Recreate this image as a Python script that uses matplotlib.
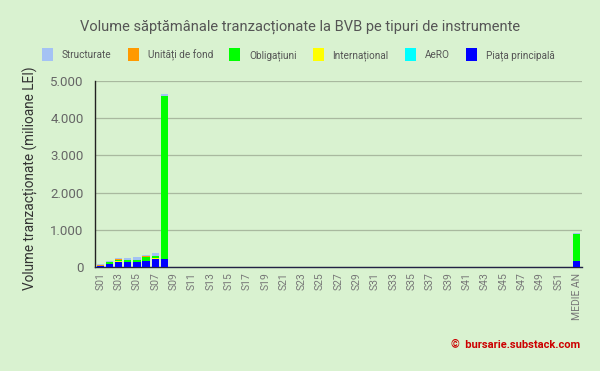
import matplotlib
matplotlib.use("Agg")
import matplotlib.pyplot as plt
import numpy as np

plt.rcParams['font.family'] = ['Roboto', 'DejaVu Sans']

weeks = [f"S{i:02d}" for i in range(1, 53)] + ["MEDIE AN"]
n = len(weeks)

# values (milioane LEI), bottom-up stacking
piata = [30, 80, 135, 135, 135, 150, 210, 205] + [0] * 44 + [160]
aero = [0, 5, 5, 5, 5, 5, 10, 5] + [0] * 44 + [5]
international = [5, 5, 20, 5, 5, 5, 10, 5] + [0] * 44 + [5]
obligatiuni = [5, 50, 40, 30, 40, 120, 60, 4380] + [0] * 44 + [720]
unitati = [20, 5, 20, 5, 5, 5, 5, 5] + [0] * 44 + [5]
structurate = [30, 20, 30, 50, 70, 40, 90, 50] + [0] * 44 + [30]

series = [
    ("Piața principală", piata, "#0000ff"),
    ("AeRO", aero, "#00ffff"),
    ("Internațional", international, "#ffff00"),
    ("Obligațiuni", obligatiuni, "#00ff00"),
    ("Unități de fond", unitati, "#ff9900"),
    ("Structurate", structurate, "#a4c2f4"),
]

bg = "#d9f2d0"
fig = plt.figure(figsize=(6, 3.71), dpi=100, facecolor=bg)
ax = fig.add_axes([0.158, 0.2803, 0.812, 0.5014], facecolor=bg)

x = np.arange(n)
bottom = np.zeros(n)
handles = {}
for name, vals, col in series:
    v = np.array(vals, dtype=float)
    b = ax.bar(x, v, bottom=bottom, width=0.8, color=col, label=name, zorder=3)
    handles[name] = b
    bottom += v

ax.set_xlim(-0.6, n - 0.4)
ax.set_ylim(0, 5000)
ax.set_yticks([0, 1000, 2000, 3000, 4000, 5000])
ax.set_yticklabels(["0", "1.000", "2.000", "3.000", "4.000", "5.000"])
ax.yaxis.grid(True, color="#a9b99f", linewidth=0.9, zorder=0)
ax.tick_params(axis='y', length=0, labelsize=9.5, colors="#666666", pad=8)

tick_pos = list(range(0, 52, 2)) + [52]
ax.set_xticks(tick_pos)
ax.set_xticklabels([weeks[i] for i in tick_pos], rotation=90, fontsize=7.5, color="#777777")
ax.tick_params(axis='x', length=0, pad=4)

for s in ["top", "right"]:
    ax.spines[s].set_visible(False)
ax.spines["left"].set_color("#222222")
ax.spines["bottom"].set_color("#222244")
ax.spines["left"].set_linewidth(1.0)
ax.spines["bottom"].set_linewidth(1.0)

ax.set_ylabel("Volume tranzacționate (milioane LEI)", fontsize=9.8, color="#333333")
ax.yaxis.set_label_coords(-0.117, 0.48)

fig.text(0.5, 0.927, "Volume săptămânale tranzacționate la BVB pe tipuri de instrumente",
         ha="center", va="center", fontsize=10.5, color="#555555")

order = ["Structurate", "Unități de fond", "Obligațiuni", "Internațional", "AeRO", "Piața principală"]
fig.legend([handles[k] for k in order], order, loc="center", bbox_to_anchor=(0.497, 0.853),
           ncol=6, frameon=False, fontsize=7.2, handlelength=1.1, handleheight=1.5,
           columnspacing=1.6, handletextpad=0.9, labelcolor="#555555")

fig.text(0.967, 0.07, "©  bursarie.substack.com", ha="right", va="center",
         fontsize=8, color="#cc0000", fontweight="bold")

fig.savefig("out.png", dpi=100, facecolor=bg)
